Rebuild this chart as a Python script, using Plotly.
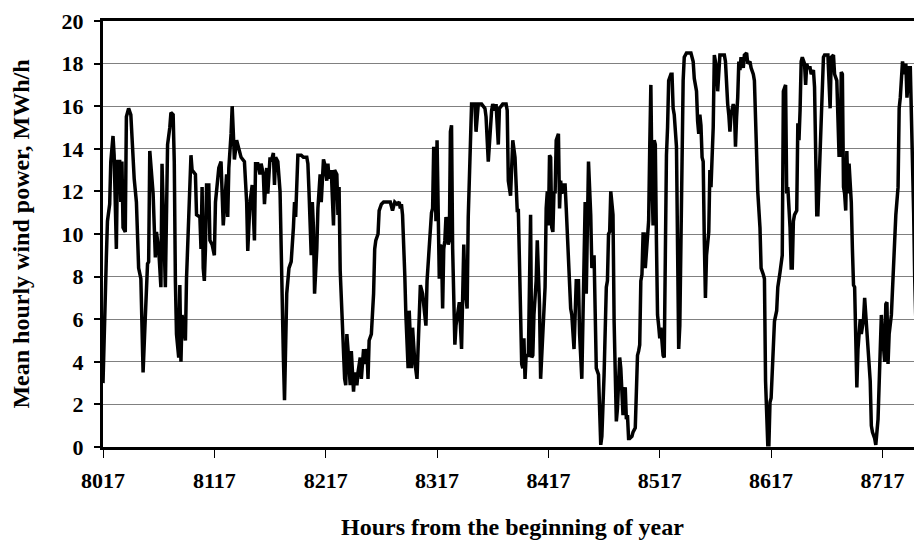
import plotly.graph_objects as go

# hourly wind power (hour of year, MWh/h)
hours = [
    8017, 8019, 8020, 8021, 8023, 8024, 8025, 8026, 8027, 8029, 8030, 8032, 8033, 8034, 8035,
    8037, 8038, 8040, 8042, 8043, 8045, 8047, 8049, 8051, 8052, 8053, 8055, 8057, 8058, 8059,
    8062, 8064, 8065, 8067, 8069, 8070, 8073, 8074, 8075, 8077, 8078, 8080, 8081, 8082, 8083,
    8085, 8086, 8087, 8088, 8091, 8092, 8094, 8096, 8097, 8100, 8101,
    8104, 8105, 8106, 8107, 8108, 8109, 8110, 8112, 8113, 8115, 8117, 8118, 8120, 8121, 8123,
    8124, 8125, 8126, 8128, 8129, 8130, 8132, 8133, 8134, 8135, 8137, 8139, 8141, 8144, 8146,
    8147, 8149, 8151, 8153, 8154, 8156, 8158, 8159, 8161, 8162, 8164, 8165, 8167, 8168, 8170,
    8171, 8172, 8174, 8176, 8177, 8178, 8179, 8180, 8181, 8182, 8184, 8186, 8188, 8189, 8190,
    8191, 8192, 8195, 8197, 8200, 8201, 8202,
    8203, 8204, 8205, 8206, 8207, 8208, 8209, 8210, 8212, 8213, 8214, 8215, 8216, 8218, 8219,
    8220, 8222, 8223, 8224, 8225, 8227, 8228, 8229, 8230, 8231, 8233, 8234, 8235, 8236, 8237,
    8239, 8240, 8242, 8243, 8245, 8246, 8248, 8249, 8251, 8252, 8254, 8255, 8256, 8258, 8259,
    8260, 8261, 8262, 8264, 8265, 8267, 8269, 8271, 8273, 8275, 8277, 8279, 8281, 8283, 8284,
    8285, 8286, 8287, 8288, 8289, 8291, 8292, 8294, 8295,
    8297, 8299, 8300, 8301, 8302, 8304, 8306, 8307, 8308, 8309, 8310, 8311, 8312, 8313, 8314,
    8315, 8316, 8317, 8318, 8319, 8320, 8321, 8322, 8323, 8324, 8325, 8327, 8328, 8329, 8330,
    8331, 8332, 8333, 8334, 8336, 8337, 8339, 8340, 8341, 8342, 8344, 8345, 8346, 8347, 8348,
    8351, 8352, 8354, 8357, 8360, 8361, 8363, 8364, 8366, 8367, 8369, 8370, 8372, 8373, 8376,
    8379, 8380, 8381, 8383, 8384, 8385, 8387, 8389,
    8390, 8391, 8392, 8393, 8394, 8395, 8396, 8397, 8399, 8400, 8401, 8402, 8403, 8404, 8405,
    8406, 8407, 8408, 8409, 8410, 8411, 8412, 8414, 8415, 8416, 8417, 8418, 8419, 8420, 8421,
    8422, 8423, 8424, 8426, 8427, 8428, 8429, 8431, 8432, 8433, 8435, 8436, 8437, 8438, 8440,
    8441, 8442, 8444, 8445, 8447, 8448, 8449, 8450, 8451, 8452, 8453, 8455, 8456, 8458, 8459,
    8460, 8462, 8463, 8464, 8465, 8466, 8467, 8469, 8470, 8471, 8472, 8473, 8475, 8476, 8477,
    8478, 8479, 8481, 8482, 8484, 8485,
    8486, 8487, 8488, 8489, 8490, 8492, 8493, 8495, 8496, 8497, 8498, 8499, 8500, 8501, 8502,
    8503, 8504, 8506, 8507, 8508, 8509, 8510, 8511, 8512, 8513, 8514, 8515, 8516, 8517, 8518,
    8519, 8520, 8521, 8522, 8523, 8524, 8525, 8527, 8528, 8529, 8530, 8532, 8533, 8534, 8535,
    8536, 8537, 8538, 8539, 8541, 8545, 8547, 8548, 8550, 8551, 8552, 8553, 8554, 8555, 8556,
    8557, 8558, 8559, 8561, 8562, 8563, 8565, 8566, 8568, 8569, 8571, 8574,
    8575, 8576, 8577, 8578, 8579, 8580, 8581, 8583, 8584, 8585, 8586, 8587, 8588, 8589, 8590,
    8592, 8593, 8595, 8596, 8598, 8599, 8601, 8602, 8604, 8605, 8607, 8608, 8610, 8611, 8612,
    8613, 8614, 8615, 8616, 8617, 8619, 8620, 8622, 8623, 8625, 8626, 8627, 8628, 8630, 8631,
    8632, 8634, 8635, 8636, 8637, 8638, 8640, 8641, 8642, 8643, 8644, 8645, 8647, 8648, 8649,
    8650, 8652, 8653, 8655, 8656, 8657, 8658, 8659, 8661, 8662, 8664, 8665, 8668, 8670, 8671,
    8673,
    8674, 8676, 8677, 8678, 8679, 8680, 8681, 8682, 8683, 8684, 8685, 8686, 8687, 8688, 8689,
    8690, 8691, 8692, 8693, 8694, 8695, 8696, 8697, 8698, 8700, 8701, 8703, 8704, 8706, 8707,
    8708, 8710, 8711, 8713, 8714, 8715, 8716, 8717, 8719, 8720, 8721, 8722, 8723, 8725, 8726,
    8728, 8729, 8731, 8732, 8733, 8734, 8735, 8737, 8738, 8739, 8741, 8742, 8743, 8744, 8745,
    8746, 8747, 8749, 8750, 8751, 8752,
]
power = [
    3.0, 7.8, 8.9, 10.6, 11.4, 13.4, 13.9, 14.6, 13.7, 9.3, 13.4, 13.4, 11.5, 13.4, 10.3,
    10.1, 15.5, 15.9, 15.6, 14.4, 12.6, 11.5, 8.4, 7.9, 5.4, 3.5, 6.1, 8.6, 8.7, 13.9,
    11.9, 8.9, 10.1, 9.3, 7.5, 13.3, 7.5, 11.5, 14.2, 15.0, 15.7, 15.6, 13.4, 7.8, 5.3,
    4.2, 7.6, 4.0, 6.2, 5.0, 7.9, 10.8, 13.7, 13.0, 12.8, 10.9,
    10.8, 9.3, 12.2, 8.4, 7.8, 9.3, 12.3, 12.3, 9.7, 9.5, 9.0, 11.5, 12.6, 13.1, 13.4,
    11.9, 10.4, 11.2, 12.8, 10.8, 13.1, 14.7, 16.0, 14.8, 13.5, 14.4, 13.9, 13.6, 13.4, 11.5,
    9.2, 11.5, 12.3, 9.7, 13.3, 13.3, 12.8, 13.3, 12.8, 11.4, 13.1, 11.9, 13.6, 13.4, 13.8,
    12.3, 13.6, 13.4, 12.0, 9.3, 5.0, 4.2, 2.2, 4.0, 7.2, 8.4, 8.7, 10.3, 11.5, 10.8,
    12.3, 13.7, 13.7, 13.6, 13.6, 13.3, 12.0,
    10.9, 9.0, 11.5, 10.3, 7.2, 8.1, 9.3, 11.2, 12.8, 11.5, 12.8, 13.5, 13.3, 12.5, 13.3,
    12.6, 13.0, 10.9, 10.4, 13.0, 12.8, 10.9, 12.2, 8.3, 7.0, 5.3, 3.2, 2.9, 5.3, 4.6,
    2.9, 4.5, 2.6, 3.5, 2.9, 3.5, 4.2, 3.2, 4.6, 3.9, 4.6, 3.2, 5.0, 5.3, 6.2,
    7.2, 9.3, 9.7, 10.0, 11.1, 11.4, 11.5, 11.5, 11.5, 11.5, 11.1, 11.5, 11.4, 11.5, 11.2,
    11.4, 10.9, 8.7, 8.1, 6.2, 3.7, 6.4, 3.7, 5.6,
    4.0, 3.2, 5.0, 7.2, 7.6, 7.2, 6.2, 5.7, 7.8, 8.7, 9.3, 10.1, 11.0, 11.2, 14.1,
    13.7, 10.6, 14.4, 10.0, 7.9, 9.5, 9.3, 6.5, 9.3, 9.7, 10.8, 9.5, 9.7, 14.8, 15.1,
    9.3, 6.7, 4.8, 5.7, 6.5, 6.8, 4.6, 6.7, 9.5, 7.5, 6.5, 10.8, 12.8, 14.1, 16.1,
    16.1, 14.8, 16.1, 16.1, 15.9, 15.5, 13.4, 14.4, 15.8, 16.1, 15.8, 16.1, 14.2, 15.9, 16.1,
    16.1, 15.8, 12.5, 11.8, 13.1, 14.4, 13.6, 11.1,
    11.1, 8.4, 6.2, 3.9, 3.7, 5.1, 3.2, 4.3, 4.3, 9.3, 10.9, 4.2, 4.3, 6.2, 7.0,
    7.8, 9.7, 7.8, 6.7, 3.2, 4.3, 5.4, 7.5, 11.2, 12.0, 10.4, 13.7, 13.6, 10.3, 10.1,
    12.0, 11.9, 14.4, 14.7, 11.2, 12.5, 11.9, 12.3, 12.3, 11.2, 8.7, 8.1, 6.5, 6.2, 4.6,
    6.2, 7.8, 7.8, 5.3, 3.2, 6.2, 8.4, 11.5, 7.2, 11.9, 13.4, 10.9, 8.4, 9.0, 5.9,
    3.7, 3.4, 2.1, 0.1, 0.5, 2.8, 3.4, 7.5, 7.8, 10.0, 10.1, 12.0, 10.9, 5.9, 3.1,
    1.2, 1.8, 4.2, 3.7, 1.5, 2.6,
    2.8, 1.3, 1.5, 0.4, 0.4, 0.5, 0.7, 0.9, 3.1, 4.3, 4.5, 4.8, 7.8, 8.1, 10.0,
    10.0, 8.4, 10.1, 10.6, 14.1, 17.0, 12.5, 10.4, 14.4, 14.2, 9.7, 6.2, 5.7, 5.1, 5.6,
    4.6, 4.3, 4.2, 10.6, 13.7, 15.0, 17.2, 17.5, 17.5, 15.9, 15.6, 14.1, 9.3, 4.6, 5.7,
    9.3, 14.1, 17.2, 18.3, 18.5, 18.5, 18.1, 17.3, 16.7, 15.3, 14.7, 15.6, 15.1, 13.6, 13.4,
    9.7, 7.0, 9.0, 10.1, 13.0, 12.2, 15.0, 18.4, 17.8, 16.7, 18.4, 18.4,
    18.4, 18.1, 16.5, 16.1, 15.6, 14.8, 15.6, 16.1, 15.9, 14.1, 15.5, 16.4, 18.1, 17.7, 18.3,
    17.8, 18.4, 18.5, 18.0, 18.1, 17.8, 17.5, 17.2, 14.1, 12.0, 10.3, 8.4, 8.1, 7.9, 3.1,
    1.0, 0.1, 0.1, 2.1, 2.3, 5.4, 5.9, 6.4, 7.5, 8.2, 8.7, 9.0, 16.7, 17.0, 11.9,
    12.2, 10.3, 8.4, 8.4, 10.6, 10.9, 11.1, 15.2, 14.4, 15.8, 18.1, 18.3, 18.0, 17.0, 18.0,
    17.8, 17.8, 17.5, 17.7, 16.9, 13.4, 10.9, 10.9, 14.1, 16.3, 18.3, 18.4, 18.4, 15.9, 18.3,
    18.4,
    17.5, 17.2, 14.8, 13.7, 13.7, 17.6, 17.5, 12.2, 11.9, 11.1, 13.9, 11.9, 13.3, 12.5, 11.5,
    9.3, 7.6, 7.5, 5.3, 2.8, 4.6, 5.4, 6.0, 5.3, 6.0, 7.0, 5.3, 5.0, 3.1, 1.0,
    0.7, 0.4, 0.1, 1.3, 2.8, 5.3, 6.2, 5.3, 4.0, 6.7, 6.8, 3.9, 5.3, 6.2, 7.3,
    9.0, 10.9, 12.2, 15.9, 16.4, 17.8, 18.1, 17.5, 18.0, 16.4, 17.8, 17.8, 15.6, 14.1, 11.0,
    7.8, 5.9, 4.2, 6.0, 4.0, 2.6,
]

x_ticks = [8017, 8117, 8217, 8317, 8417, 8517, 8617, 8717]

serif = "Liberation Serif"
tick_font = {"family": serif, "size": 22, "color": "black", "weight": "bold"}
title_font = {"family": serif, "size": 24, "color": "black", "weight": "bold"}

fig = go.Figure()
fig.add_trace(
    go.Scatter(
        x=hours,
        y=power,
        mode="lines",
        line={"color": "black", "width": 3.5},
        showlegend=False,
    )
)

fig.update_xaxes(
    range=[8017, 8752.5],
    tickvals=x_ticks,
    ticktext=[str(t) for t in x_ticks],
    ticks="outside",
    ticklen=8,
    tickwidth=1,
    tickcolor="black",
    ticklabelstandoff=4,
    showline=True,
    linecolor="black",
    linewidth=3,
    mirror=True,
    showgrid=False,
    zeroline=False,
    automargin=False,
    tickfont=tick_font,
    title={"text": "Hours from the beginning of year", "font": title_font, "standoff": 30},
)
fig.update_yaxes(
    range=[0, 20],
    dtick=2,
    ticks="outside",
    ticklen=6,
    tickwidth=2,
    tickcolor="black",
    ticklabelstandoff=6,
    showline=True,
    linecolor="black",
    linewidth=3,
    showgrid=True,
    gridcolor="#808080",
    gridwidth=1,
    zeroline=False,
    automargin=False,
    tickfont=tick_font,
    title={"text": "Mean hourly wind power, MWh/h", "font": title_font, "standoff": 30},
)

# the page body adds 8px on each side, so the figure is sized to fit the
# window without scrollbars and the plot runs right up to the window's edge
fig.update_layout(
    width=914,
    height=532,
    margin={"l": 95, "r": 0, "t": 13, "b": 93},
    font={"family": serif, "color": "black"},
    plot_bgcolor="white",
    paper_bgcolor="white",
)

fig.write_html("out.html")
